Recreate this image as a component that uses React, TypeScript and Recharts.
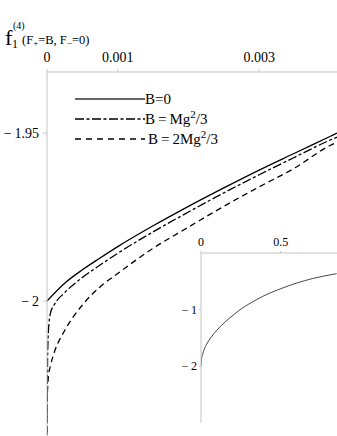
import React from "react"
import { LineChart, Line, XAxis, YAxis } from "recharts"

// main plot: three curves near x = 0
const xTicks = [0, 0.001, 0.003]
const yTicks = [-2, -1.95]

const solidX = [0, 0.00025, 0.0005, 0.00075, 0.001, 0.0015, 0.002, 0.0025, 0.003, 0.0035, 0.004, 0.0041]
const solidY = [-2, -1.9947, -1.9907, -1.9872, -1.9838, -1.9776, -1.9718, -1.9663, -1.961, -1.956, -1.951, -1.95]

const dashDotX = [0.000001, 0.000003, 0.00001, 0.00002, 0.00005, 0.0001, 0.00025, 0.0005, 0.00075, 0.001, 0.0015, 0.002, 0.0025, 0.003, 0.0035, 0.004, 0.0041]
const dashDotY = [-2.045, -2.03, -2.015, -2.009, -2.0035, -2.0012, -1.9975, -1.993, -1.9893, -1.9858, -1.9794, -1.9735, -1.9678, -1.9624, -1.9572, -1.9521, -1.9512]

const dashedX = [0.000001, 0.000005, 0.00002, 0.00005, 0.0001, 0.00025, 0.0005, 0.00075, 0.001, 0.0015, 0.002, 0.0025, 0.003, 0.0035, 0.004, 0.0041]
const dashedY = [-2.045, -2.028, -2.0225, -2.0192, -2.0155, -2.0088, -2.0012, -1.9958, -1.9918, -1.9843, -1.978, -1.9718, -1.966, -1.9604, -1.9537, -1.9527]

// inset: wider range
const insetXTicks = [0, 0.5]
const insetYTicks = [-2, -1]
const insetX = [0, 0.004, 0.01, 0.02, 0.035, 0.06, 0.1, 0.15, 0.2, 0.25, 0.3, 0.35, 0.42, 0.5, 0.6, 0.7, 0.85]
const insetY = [-2, -1.86, -1.79, -1.7, -1.61, -1.5, -1.36, -1.22, -1.1, -0.99, -0.9, -0.82, -0.72, -0.63, -0.53, -0.45, -0.365]

const zip = (xs: number[], ys: number[]) => xs.map((x, i) => ({ x, y: ys[i] }))

const serif = "Liberation Serif"
const axisGray = "#c4c4c4"
const minus = (v: number) => (v < 0 ? "\u2212\u2009" + String(-v) : String(v))

// plain serif tick text
const tickText = (anchor: string, dy: number, size: number) => (props: any) => (
  <text x={props.x} y={props.y} dy={dy} textAnchor={anchor} fill="#000" fontSize={size} fontFamily={serif}>
    {minus(props.payload.value)}
  </text>
)

export default function App() {
  return (
    <div style={{ position: "absolute", left: 0, top: 0, width: 337, height: 436, background: "#fff", fontFamily: serif }}>
      <div style={{ position: "absolute", left: 0, top: 0 }}>
        <LineChart width={337} height={436} margin={{ top: 42, right: 0, bottom: 0, left: 0 }}>
          <XAxis
            dataKey="x"
            type="number"
            orientation="top"
            height={30}
            domain={[0, 0.0041]}
            ticks={xTicks}
            allowDataOverflow
            stroke={axisGray}
            tickSize={3}
            tickMargin={6}
            tick={tickText("middle", -1, 14)}
          />
          <YAxis
            type="number"
            width={47}
            domain={[-2.0402, -1.9318]}
            ticks={yTicks}
            allowDataOverflow
            stroke={axisGray}
            tickSize={4}
            tickMargin={4}
            tick={tickText("end", 5, 14)}
          />
          <Line data={zip(dashedX, dashedY)} dataKey="y" type="monotone" stroke="#000" strokeWidth={1.3} strokeDasharray="6 4" dot={false} isAnimationActive={false} />
          <Line data={zip(dashDotX, dashDotY)} dataKey="y" type="monotone" stroke="#000" strokeWidth={1.3} strokeDasharray="9 2.5 3 2.5" dot={false} isAnimationActive={false} />
          <Line data={zip(solidX, solidY)} dataKey="y" type="monotone" stroke="#000" strokeWidth={1.3} dot={false} isAnimationActive={false} />
        </LineChart>
      </div>

      <div style={{ position: "absolute", left: 170, top: 225 }}>
        <LineChart width={167} height={198} margin={{ top: 0, right: 0, bottom: 0, left: 0 }}>
          <XAxis
            dataKey="x"
            type="number"
            orientation="top"
            height={28}
            domain={[0, 0.852]}
            ticks={insetXTicks}
            allowDataOverflow
            stroke={axisGray}
            tickSize={2}
            tickMargin={4}
            tick={tickText("middle", -1, 12)}
          />
          <YAxis
            type="number"
            width={31}
            domain={[-3, 0]}
            ticks={insetYTicks}
            allowDataOverflow
            stroke={axisGray}
            tickSize={2}
            tickMargin={2}
            tick={tickText("end", 4, 12)}
          />
          <Line data={zip(insetX, insetY)} dataKey="y" type="monotone" stroke="#333" strokeWidth={0.9} dot={false} isAnimationActive={false} />
        </LineChart>
      </div>

      <svg width={337} height={160} style={{ position: "absolute", left: 0, top: 0 }}>
        <text x={5} y={45} fontSize={22} fontFamily={serif}>f</text>
        <text x={12} y={48} fontSize={12} fontFamily={serif}>1</text>
        <text x={13} y={29} fontSize={10} fontFamily={serif}>(4)</text>
        <text x={22} y={44} fontSize={12.5} fontFamily={serif}>
          (F<tspan fontSize={9} dy={2}>+</tspan><tspan dy={-2}>=B, F</tspan><tspan fontSize={9} dy={2}>{"\u2212"}</tspan><tspan dy={-2}>=0)</tspan>
        </text>

        <line x1={75} x2={145} y1={99} y2={99} stroke="#333" strokeWidth={1.6} />
        <text x={145} y={104} fontSize={15} fontFamily={serif}>B=0</text>
        <line x1={75} x2={145} y1={119} y2={119} stroke="#000" strokeWidth={1.4} strokeDasharray="9 2.5 3 2.5" />
        <text x={145} y={124} fontSize={15} fontFamily={serif}>B{"\u2009=\u2009"}Mg<tspan fontSize={11} dy={-6}>2</tspan><tspan dy={6}>/3</tspan></text>
        <line x1={75} x2={145} y1={139} y2={139} stroke="#000" strokeWidth={1.4} strokeDasharray="6 5" />
        <text x={148} y={144} fontSize={15} fontFamily={serif}>B{"\u2009=\u2009"}2Mg<tspan fontSize={11} dy={-6}>2</tspan><tspan dy={6}>/3</tspan></text>
      </svg>
    </div>
  )
}
